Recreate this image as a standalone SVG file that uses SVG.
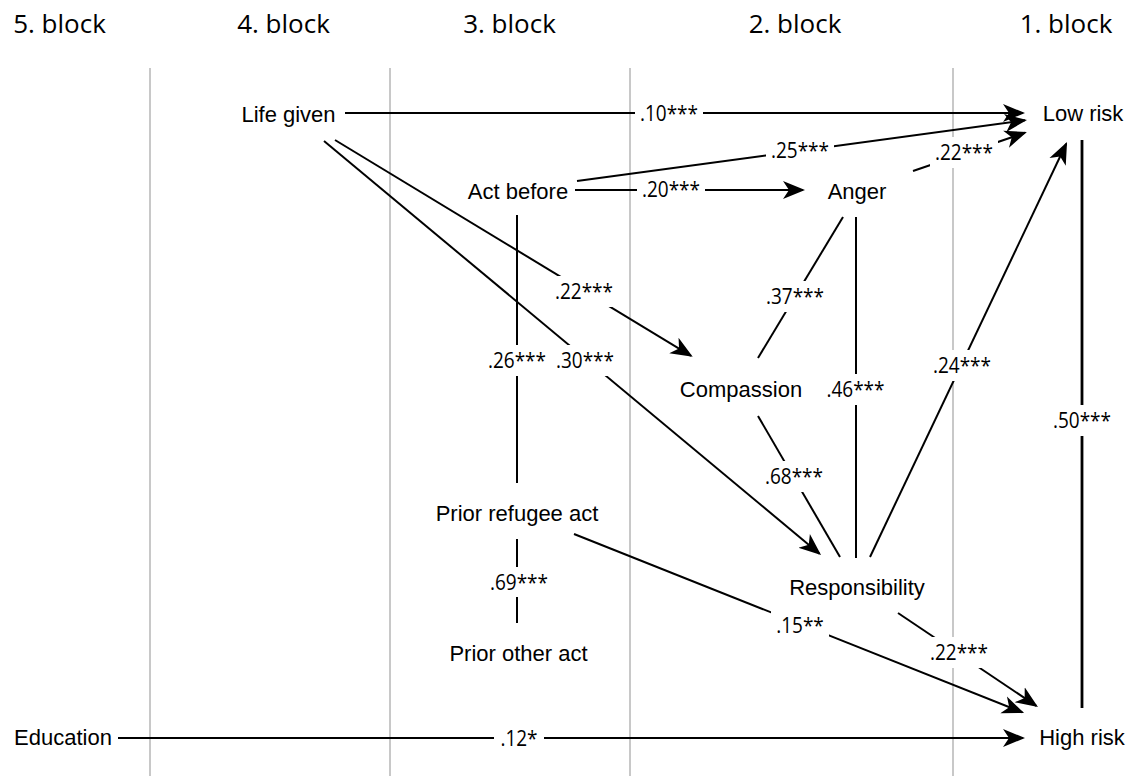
<svg xmlns="http://www.w3.org/2000/svg" width="1134" height="776" viewBox="0 0 1134 776">
<style>
.hdr{font-family:"Open Sans","Liberation Sans",sans-serif;font-size:26px;fill:#000;text-anchor:middle}
.node{font-family:"Liberation Sans",Arial,sans-serif;font-size:22px;fill:#000;text-anchor:middle}
.lbl{font-family:"Open Sans","Liberation Sans",sans-serif;font-size:19px;fill:#000;text-anchor:middle;transform-box:fill-box;transform-origin:50% 50%;transform:scaleY(1.1)}
.grid{stroke:#c8c8c8;stroke-width:2;fill:none}
.edge{stroke:#000;stroke-width:2;fill:none}
.thick{stroke-width:2.8}
.arr{marker-end:url(#ah)}
.bg{fill:#fff;stroke:none}
</style>
<defs>
<marker id="ah" markerUnits="userSpaceOnUse" markerWidth="24" markerHeight="20" viewBox="0 0 24 20" refX="20" refY="10" orient="auto">
<path d="M0,1 L22,10 L0,19 L6,10 Z" fill="#000"/>
</marker>
</defs>
<rect width="1134" height="776" fill="#fff"/>
<g id="headers">
<text class="hdr" x="59.5" y="33">5. block</text>
<text class="hdr" x="283.5" y="33">4. block</text>
<text class="hdr" x="509.5" y="33">3. block</text>
<text class="hdr" x="795" y="33">2. block</text>
<text class="hdr" x="1066" y="33">1. block</text>
</g>
<g id="block-lines">
<line class="grid" x1="150" y1="68" x2="150" y2="776"/>
<line class="grid" x1="390" y1="68" x2="390" y2="776"/>
<line class="grid" x1="630" y1="68" x2="630" y2="776"/>
<line class="grid" x1="953" y1="68" x2="953" y2="776"/>
</g>
<g id="connectors">
<path id="e-life-low" class="edge arr" d="M345,113 H1023"/>
<path id="e-act-anger" class="edge arr" d="M575,190 H803"/>
<path id="e-act-low" class="edge arr" d="M577,181 L1025,120.3"/>
<path id="e-anger-low" class="edge arr" d="M913,171 L1025,132.7"/>
<path id="e-life-comp" class="edge arr" d="M335,140 L691,355.8"/>
<path id="e-life-resp" class="edge arr" d="M324,141 L819.5,553.7"/>
<path id="e-act-prior" class="edge" d="M517,215 V483"/>
<path id="e-anger-comp" class="edge" d="M843,217 L758,358"/>
<path id="e-anger-resp" class="edge" d="M856,217 V558"/>
<path id="e-comp-resp" class="edge" d="M758,416 L840,557"/>
<path id="e-resp-low" class="edge arr" d="M870,557 L1066.2,143.8"/>
<path id="e-low-high" class="edge thick" d="M1082,140 V708"/>
<path id="e-prior-other" class="edge" d="M517,539 V623"/>
<path id="e-prior-high" class="edge arr" d="M574,534 L1022.2,712.3"/>
<path id="e-resp-high" class="edge arr" d="M898,613 L1036.3,705.9"/>
<path id="e-edu-high" class="edge arr" d="M118,738 H1023"/>
<g id="labels">
<rect class="bg" x="635" y="97.5" width="68" height="31"/><text class="lbl" x="669" y="119.8">.10***</text>
<rect class="bg" x="766" y="135" width="68" height="31"/><text class="lbl" x="800" y="157.3">.25***</text>
<rect class="bg" x="637" y="174" width="68" height="31"/><text class="lbl" x="671" y="196.3">.20***</text>
<rect class="bg" x="930" y="137" width="68" height="31"/><text class="lbl" x="964" y="159.3">.22***</text>
<rect class="bg" x="550" y="276" width="68" height="31"/><text class="lbl" x="584" y="298.3">.22***</text>
<rect class="bg" x="483" y="345" width="68" height="31"/><text class="lbl" x="517" y="367.3">.26***</text>
<rect class="bg" x="551" y="345" width="68" height="31"/><text class="lbl" x="585" y="367.3">.30***</text>
<rect class="bg" x="761" y="281" width="68" height="31"/><text class="lbl" x="795" y="303.3">.37***</text>
<rect class="bg" x="821.5" y="374" width="68" height="31"/><text class="lbl" x="855.5" y="396.3">.46***</text>
<rect class="bg" x="928" y="350" width="68" height="31"/><text class="lbl" x="962" y="372.3">.24***</text>
<rect class="bg" x="1048" y="405" width="68" height="31"/><text class="lbl" x="1082" y="427.3">.50***</text>
<rect class="bg" x="760" y="461" width="68" height="31"/><text class="lbl" x="794" y="483.3">.68***</text>
<rect class="bg" x="485" y="567" width="68" height="30"/><text class="lbl" x="519" y="588.8">.69***</text>
<rect class="bg" x="771" y="610" width="58" height="31"/><text class="lbl" x="800" y="632.3">.15**</text>
<rect class="bg" x="925" y="637" width="68" height="31"/><text class="lbl" x="959" y="659.3">.22***</text>
<rect class="bg" x="494" y="723" width="50" height="30"/><text class="lbl" x="519" y="744.8">.12*</text>
</g>
</g>
<g id="n-life-given"><text class="node" x="288.5" y="121.5">Life given</text></g>
<g id="n-low-risk"><text class="node" x="1083" y="121">Low risk</text></g>
<g id="n-act-before"><text class="node" x="518" y="199">Act before</text></g>
<g id="n-anger"><text class="node" x="857" y="198.5">Anger</text></g>
<g id="n-compassion"><text class="node" x="741" y="397">Compassion</text></g>
<g id="n-prior-refugee-act"><text class="node" x="517" y="521">Prior refugee act</text></g>
<g id="n-responsibility"><text class="node" x="857" y="595">Responsibility</text></g>
<g id="n-prior-other-act"><text class="node" x="518.5" y="661">Prior other act</text></g>
<g id="n-education"><text class="node" x="63" y="745">Education</text></g>
<g id="n-high-risk"><text class="node" x="1082" y="745">High risk</text></g>
</svg>
